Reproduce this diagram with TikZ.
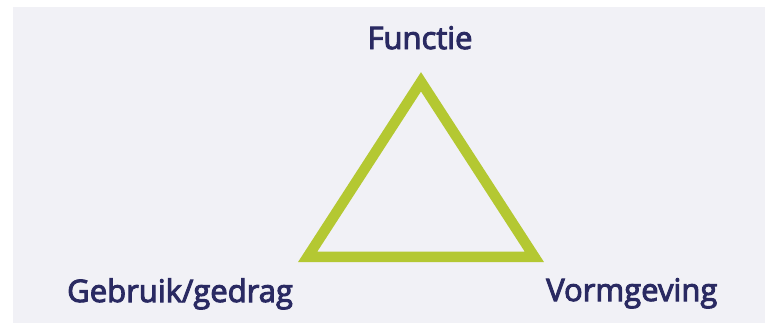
\documentclass[tikz,border=0pt]{standalone}
\usepackage{fontspec}
\setmainfont{Open Sans}
\newfontfamily\labfont{Open Sans}[FakeBold=3.2]
\definecolor{bggrey}{HTML}{F1F1F6}
\definecolor{navy}{HTML}{2A2A62}
\definecolor{lime}{HTML}{B4C832}
\tikzset{
  lab/.style={font=\labfont\fontsize{31}{36}\selectfont, text=navy, inner sep=0pt},
  tri/.style={draw=lime, line width=10.5pt, line join=miter}
}
\begin{document}
\begin{tikzpicture}[x=1pt,y=-1pt]
\useasboundingbox (0,0) rectangle (765,329);
\fill[white] (0,0) rectangle (765,329);
\fill[bggrey] (13,7) rectangle (765,323);
\coordinate (top) at (421,81.8);
\coordinate (bl) at (307.7,256.75);
\coordinate (br) at (534.3,256.75);
\draw[tri] (top) -- (bl) -- (br) -- cycle;
\node[lab, anchor=base] (functie) at (420,49) {Functie};
\node[lab, anchor=base west] (gebruik) at (67,302) {Gebruik/gedrag};
\node[lab, anchor=base west] (vorm) at (546,301) {Vormgeving};
\end{tikzpicture}
\end{document}
